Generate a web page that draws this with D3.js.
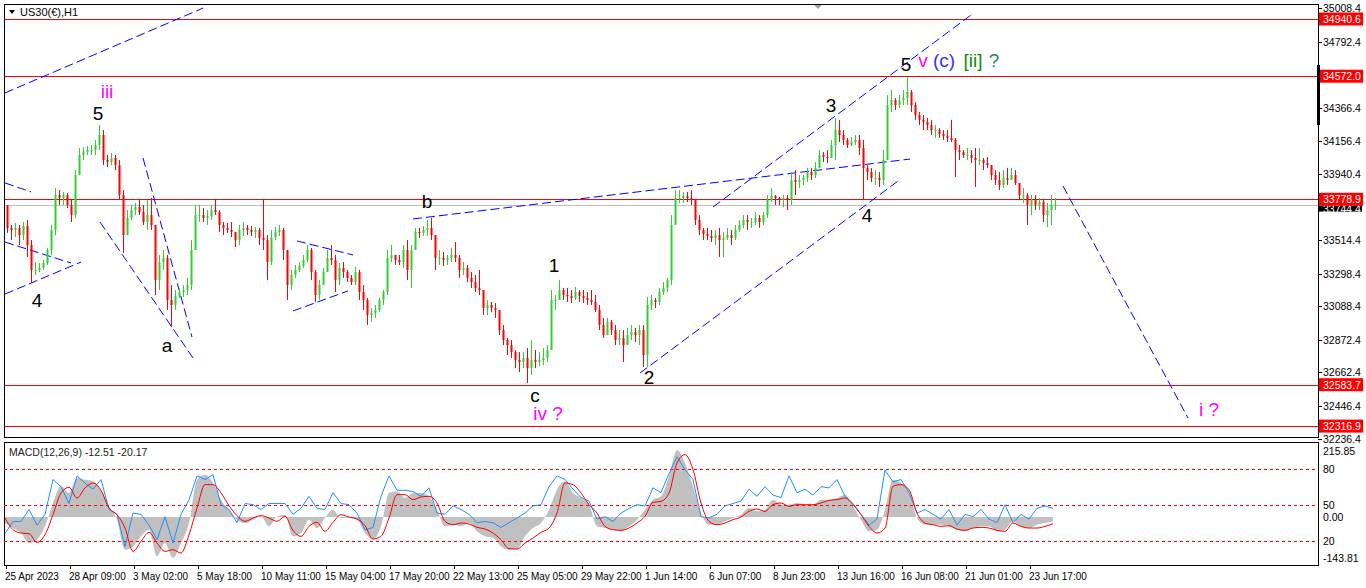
<!DOCTYPE html>
<html>
<head>
<meta charset="utf-8">
<script src="https://cdn.jsdelivr.net/npm/d3@7"></script>
<style>
body { margin: 0; background: #fff; }
svg text { font-family: "Liberation Sans", Arial, sans-serif; }
</style>
</head>
<body>
<svg id="chart" width="1366" height="588"></svg>
<script>
// H1 bars, grouped by 4 hours (one column per 4 bars)
const firstOpen = 33740;
const barHigh = [
  33742,33613,33626,33613,33632,33645,33516,33374,33368,33387,
  33465,33613,33852,33838,33825,33819,33774,33967,34109,34115,
  34122,34128,34161,34257,34225,34064,34077,34064,34032,33838,
  33709,33742,33755,33774,33742,33774,33787,33613,33420,33452,
  33420,33226,33194,33207,33226,33272,33516,33742,33742,33723,
  33709,33742,33774,33709,33632,33626,33632,33568,33613,33632,
  33613,33607,33600,33594,33774,33548,33581,33600,33613,33594,
  33452,33323,33355,33374,33420,33484,33465,33323,33258,33336,
  33452,33484,33420,33368,33374,33323,33291,33342,33323,33226,
  33143,33078,33097,33143,33194,33452,33484,33420,33420,33484,
  33516,33484,33594,33594,33607,33645,33658,33548,33452,33439,
  33420,33465,33503,33420,33374,33355,33310,33291,33323,33194,
  33130,33117,33110,33065,32968,32885,32872,32807,32794,32794,
  32820,32872,32807,32794,32820,32839,33194,33162,33258,33207,
  33207,33194,33213,33194,33194,33181,33194,33162,33097,33014,
  33014,33001,32968,32936,32936,32949,32968,32949,32968,32968,
  33149,33162,33143,33207,33245,33272,33677,33838,33838,33825,
  33825,33838,33774,33677,33594,33594,33581,33581,33594,33568,
  33594,33581,33613,33645,33677,33677,33658,33696,33677,33696,
  33806,33852,33806,33793,33806,33806,33954,33967,33935,33935,
  33980,33980,34019,34096,34083,34096,34161,34303,34290,34225,
  34174,34180,34193,34193,34161,33999,33980,33967,33954,34096,
  34451,34483,34431,34451,34483,34567,34483,34405,34341,34322,
  34303,34290,34257,34238,34225,34225,34290,34174,34128,34096,
  34109,34096,34109,34109,34045,34051,33999,33967,33954,33967,
  33980,33980,33967,33884,33852,33819,33806,33806,33787,33774,
  33755,33806,33787
];
const barLow = [
  33562,33516,33535,33484,33516,33407,33239,33291,33310,33323,
  33355,33420,33548,33742,33742,33723,33632,33658,33967,34032,
  34064,34064,34064,34096,33999,33986,33999,33967,33774,33433,
  33548,33645,33677,33677,33613,33581,33581,33162,33194,33323,
  33065,32955,33065,33143,33149,33162,33194,33452,33632,33632,
  33613,33645,33677,33568,33548,33562,33535,33471,33484,33542,
  33548,33542,33529,33484,33452,33258,33355,33516,33542,33387,
  33130,33194,33272,33310,33336,33374,33258,33117,33130,33226,
  33310,33355,33181,33226,33272,33245,33226,33226,33130,33065,
  32968,32988,33014,33052,33097,33162,33374,33355,33355,33336,
  33258,33207,33452,33529,33542,33542,33516,33323,33355,33349,
  33355,33374,33374,33272,33291,33245,33207,33181,33162,33033,
  33033,33052,33014,32904,32839,32775,32756,32691,32665,32691,
  32594,32646,32691,32704,32711,32730,32807,33065,33130,33130,
  33117,33110,33130,33117,33110,33097,33097,33052,32936,32885,
  32923,32904,32839,32839,32730,32839,32872,32859,32839,32698,
  32698,33065,33078,33097,33162,33181,33226,33613,33755,33755,
  33761,33742,33613,33548,33516,33516,33503,33484,33407,33407,
  33516,33484,33516,33568,33594,33581,33594,33613,33594,33613,
  33658,33761,33742,33742,33729,33709,33742,33806,33852,33871,
  33890,33903,33916,33980,34019,34012,34045,34032,34148,34128,
  34109,34122,34128,34064,33774,33903,33890,33871,33858,33871,
  34032,34341,34354,34367,34386,34386,34341,34290,34257,34225,
  34225,34193,34174,34174,34161,34148,34148,33922,34032,34045,
  34032,34012,33858,33999,33967,33980,33903,33871,33838,33852,
  33871,33903,33871,33774,33755,33613,33677,33709,33709,33632,
  33600,33613,33709
];
const barClose = [
  33594,33581,33594,33548,33607,33484,33323,33323,33336,33368,
  33452,33581,33806,33787,33806,33742,33677,33935,34064,34083,
  34096,34096,34128,34193,34032,34019,34045,33999,33806,33548,
  33658,33709,33729,33696,33632,33677,33613,33258,33374,33401,
  33130,33097,33156,33181,33194,33226,33452,33677,33677,33658,
  33671,33709,33696,33613,33594,33581,33568,33516,33581,33594,
  33581,33568,33581,33529,33516,33374,33535,33568,33581,33452,
  33226,33291,33323,33349,33387,33452,33310,33162,33226,33310,
  33401,33387,33258,33336,33310,33272,33245,33310,33181,33130,
  33033,33046,33065,33130,33181,33401,33420,33387,33374,33452,
  33323,33452,33568,33562,33581,33594,33548,33401,33401,33387,
  33401,33420,33401,33323,33336,33272,33245,33207,33194,33078,
  33097,33078,33065,32936,32872,32839,32794,32743,32730,32756,
  32691,32743,32730,32743,32756,32807,33130,33130,33194,33162,
  33156,33143,33181,33156,33143,33130,33117,33065,32968,32904,
  32988,32936,32872,32885,32839,32904,32923,32904,32936,32775,
  33097,33130,33117,33181,33207,33258,33613,33787,33787,33800,
  33787,33774,33645,33581,33555,33542,33529,33548,33516,33529,
  33548,33529,33581,33613,33645,33632,33632,33658,33632,33677,
  33774,33800,33787,33774,33787,33774,33903,33890,33903,33916,
  33954,33935,33980,34064,34051,34045,34128,34225,34193,34161,
  34128,34148,34161,34109,33980,33954,33916,33916,33903,34032,
  34386,34418,34386,34418,34431,34470,34386,34322,34290,34277,
  34257,34225,34225,34199,34187,34174,34161,34096,34083,34064,
  34064,34045,34032,34032,34012,33999,33935,33903,33871,33916,
  33903,33935,33884,33806,33806,33742,33774,33742,33761,33677,
  33709,33742,33744
];
const barsPerColumn = 4;

const timeLabels = ["25 Apr 2023","28 Apr 09:00","3 May 02:00","5 May 18:00","10 May 11:00",
  "15 May 04:00","17 May 20:00","22 May 13:00","25 May 05:00","29 May 22:00","1 Jun 14:00",
  "6 Jun 07:00","8 Jun 23:00","13 Jun 16:00","16 Jun 08:00","21 Jun 01:00","23 Jun 17:00"];
const barsPerLabel = 64;

const priceTicks = [35008.4,34792.4,34366.4,34156.4,33940.4,33514.4,33298.4,33088.4,32872.4,32662.4,32446.4,32236.4];
const levelPrices = [34940.6,34572.0,33778.9,32583.7,32316.9];
const bidPrice = 33744.4;

// MACD window, one value every 8 bars
const macdStep = 8;
const macdMain = [
  -18,-33,-48,-78,-68,-28,42,92,72,117,112,107,82,32,-8,-98,-88,-58,-38,-118,-78,-123,-78,-18,112,
  127,102,52,22,-8,-18,-8,2,-28,2,7,-58,-48,-8,-33,-3,22,-3,-3,-8,-48,-68,-28,72,77,57,72,72,62,22,
  -28,-23,-28,-18,-43,-58,-63,-88,-98,-96,
  -58,-33,-18,22,82,107,72,57,37,-28,-33,-38,-43,-28,-8,22,52,62,122,200,162,92,12,-23,-23,
  -13,-3,7,27,17,22,52,37,37,42,37,37,52,52,57,67,32,-8,-43,-38,22,112,102,77,-3,-23,-23,-23,-28,-38,
  -43,-33,-28,-28,-43,-38,-13,-28,-33,-23,-18,-12.51
];
const macdSignal = [
  -3,-38,-48,-50,-76,-53,7,72,89,57,87,102,80,27,7,-33,-103,-73,-46,-78,-103,-98,-108,-53,27,
  97,97,72,34,4,-13,-3,4,-3,-13,2,-40,-58,-28,-16,-43,-16,7,0,-6,-26,-66,-58,-3,67,67,52,60,62,42,
  -13,-23,-18,-21,-31,-36,-48,-68,-95,-96,
  -78,-63,-46,-33,12,102,97,72,37,12,-28,-38,-40,-33,-18,2,44,47,72,162,187,142,42,-13,-23,
  -18,-8,0,17,24,17,37,42,32,37,37,37,42,50,52,57,37,7,-28,-48,-33,92,97,82,12,-18,-23,-28,-26,-36,
  -40,-33,-31,-33,-40,-43,-18,-28,-33,-33,-28,-20.17
];
const oscLine = [
  26,36,36,46,33,42,71,65,51,74,68,63,71,46,42,15,43,42,33,21,40,18,42,54,74,
  71,75,50,46,35,51,50,46,51,51,51,42,47,57,47,46,60,51,50,43,29,31,57,74,62,62,61,57,64,43,
  42,49,46,42,35,36,35,31,35,39,
  43,49,50,65,74,71,63,56,53,38,40,36,43,47,50,49,64,60,76,90,79,71,40,39,42,
  49,51,53,63,57,65,58,56,74,60,63,58,65,64,71,57,51,42,33,38,79,69,71,60,43,46,42,38,46,33,
  42,40,46,38,35,50,35,42,38,47,49,47
];
const oscLevels = [80, 50, 20];
const macdRange = [-143.81, 215.85];

// wave count text: bar index, price
const waveLabels = [
  { bar: 32, price: 33084, text: "4", color: "#000" },
  { bar: 93, price: 34290, text: "5", color: "#000" },
  { bar: 102, price: 34430, text: "iii", color: "#ff00ff" },
  { bar: 162, price: 32794, text: "a", color: "#000" },
  { bar: 422, price: 33722, text: "b", color: "#000" },
  { bar: 530, price: 32472, text: "c", color: "#000" },
  { bar: 543, price: 32356, text: "iv ?", color: "#ff00ff" },
  { bar: 549, price: 33310, text: "1", color: "#000" },
  { bar: 644, price: 32588, text: "2", color: "#000" },
  { bar: 826, price: 34341, text: "3", color: "#000" },
  { bar: 862, price: 33632, text: "4", color: "#000" },
  { bar: 901, price: 34605, text: "5", color: "#000" },
  { bar: 918, price: 34631, text: "v", color: "#ff00ff" },
  { bar: 939, price: 34631, text: "(c)", color: "#3030ff" },
  { bar: 968, price: 34631, text: "[ii]", color: "#108a10" },
  { bar: 989, price: 34631, text: "?", color: "#208a50" },
  { bar: 1204, price: 32382, text: "i ?", color: "#ff00ff" }
];

// dashed trend lines: [bar, price] -> [bar, price]
const trendLines = [
  [0, 34464, 198, 35011],
  [0, 33884, 26, 33826],
  [0, 33503, 66, 33368],
  [0, 33168, 76, 33374],
  [138, 34045, 187, 32891],
  [95, 33632, 188, 32756],
  [292, 33510, 348, 33420],
  [288, 33059, 343, 33188],
  [408, 33652, 905, 34038],
  [708, 33729, 966, 34966],
  [635, 32659, 893, 33896],
  [1058, 33864, 1183, 32369]
];

const svg = d3.select("#chart");

const left = 4, right = 1318;
const mainTop = 4, mainBottom = 437;
const subTop = 442, subBottom = 565;

const x = d3.scaleLinear().domain([0, 1313]).range([5, 1318]);
const y = d3.scaleLinear().domain([32446.4, 34792.4]).range([406, 42]);
const yMacd = d3.scaleLinear().domain(macdRange).range([565, 445]);
const yOsc = d3.scaleLinear().domain([0, 100]).range([564.7, 444.7]);

svg.append("rect").attr("width", 1366).attr("height", 588).attr("fill", "#fff");

svg.append("clipPath").attr("id", "mainClip")
  .append("rect").attr("x", left).attr("y", mainTop).attr("width", right - left).attr("height", mainBottom - mainTop);
svg.append("clipPath").attr("id", "subClip")
  .append("rect").attr("x", left).attr("y", subTop).attr("width", right - left).attr("height", subBottom - subTop);

// main panel
const main = svg.append("g").attr("clip-path", "url(#mainClip)");

main.selectAll("line.level")
  .data(levelPrices)
  .join("line")
  .attr("x1", left).attr("x2", right)
  .attr("y1", d => Math.round(y(d)) + 0.5).attr("y2", d => Math.round(y(d)) + 0.5)
  .attr("stroke", "#ff0000");

main.append("line")
  .attr("x1", left).attr("x2", right)
  .attr("y1", Math.round(y(bidPrice)) + 0.5).attr("y2", Math.round(y(bidPrice)) + 0.5)
  .attr("stroke", "#c0c0c0");

main.selectAll("line.trend")
  .data(trendLines)
  .join("line")
  .attr("x1", d => x(d[0])).attr("y1", d => y(d[1]))
  .attr("x2", d => x(d[2])).attr("y2", d => y(d[3]))
  .attr("stroke", "#0000ff")
  .attr("stroke-width", 1)
  .attr("stroke-dasharray", "9,4");

const cols = barClose.map((c, i) => {
  const o = i ? barClose[i - 1] : firstOpen;
  return { i, o, c, h: Math.max(barHigh[i], o, c), l: Math.min(barLow[i], o, c) };
});
const colColor = d => d.c >= d.o ? "#32cd32" : "#ff0000";

main.selectAll("line.wick")
  .data(cols)
  .join("line")
  .attr("x1", d => Math.round(x(d.i * barsPerColumn + 2)) + 0.5)
  .attr("x2", d => Math.round(x(d.i * barsPerColumn + 2)) + 0.5)
  .attr("y1", d => y(d.h)).attr("y2", d => y(d.l))
  .attr("stroke", colColor);

main.selectAll("rect.body")
  .data(cols)
  .join("rect")
  .attr("x", d => Math.round(x(d.i * barsPerColumn + 1)) + 0.5)
  .attr("width", 2)
  .attr("y", d => y(Math.max(d.o, d.c)))
  .attr("height", d => Math.max(1, Math.abs(y(d.o) - y(d.c))))
  .attr("fill", colColor);

main.selectAll("text.wave")
  .data(waveLabels)
  .join("text")
  .attr("x", d => x(d.bar)).attr("y", d => y(d.price))
  .attr("text-anchor", "middle")
  .attr("font-size", 19)
  .attr("fill", d => d.color)
  .text(d => d.text);

// chart shift marker
svg.append("path")
  .attr("d", `M${x(808)},4L${x(818)},4L${x(813)},9Z`)
  .attr("fill", "#a0a0a0");

// header
svg.append("path").attr("d", "M9,10L15,10L12,14Z").attr("fill", "#000");
svg.append("text").attr("x", 20).attr("y", 16).attr("font-size", 11).text("US30(€),H1");

// frames
svg.append("rect").attr("x", left + 0.5).attr("y", mainTop + 0.5)
  .attr("width", right - left).attr("height", mainBottom - mainTop)
  .attr("fill", "none").attr("stroke", "#000");
svg.append("rect").attr("x", left + 0.5).attr("y", subTop + 0.5)
  .attr("width", right - left).attr("height", subBottom - subTop)
  .attr("fill", "none").attr("stroke", "#000");

// price axis
const axisG = svg.append("g");
axisG.selectAll("line")
  .data(priceTicks)
  .join("line")
  .attr("x1", right).attr("x2", right + 4)
  .attr("y1", d => Math.round(y(d)) + 0.5).attr("y2", d => Math.round(y(d)) + 0.5)
  .attr("stroke", "#000");
axisG.selectAll("text")
  .data(priceTicks)
  .join("text")
  .attr("x", right + 5).attr("y", d => y(d) + 4)
  .attr("font-size", 10.5)
  .text(d => d.toFixed(1));

// bid label sits under the level labels; only its lower edge shows
svg.append("clipPath").attr("id", "bidClip")
  .append("rect").attr("x", right).attr("y", y(bidPrice) + 1).attr("width", 48).attr("height", 8);
const bidG = axisG.append("g").attr("clip-path", "url(#bidClip)");
bidG.append("rect")
  .attr("x", right + 1).attr("y", y(bidPrice) - 6).attr("width", 43).attr("height", 13)
  .attr("fill", "#000");
bidG.append("text")
  .attr("x", right + 5).attr("y", y(bidPrice) + 8)
  .attr("font-size", 10.5).attr("fill", "#fff")
  .text(bidPrice.toFixed(1));

const levelG = axisG.selectAll("g.lvl").data(levelPrices).join("g");
levelG.append("rect")
  .attr("x", right + 1).attr("y", d => y(d) - 6.5).attr("width", 44).attr("height", 13)
  .attr("fill", "#ff0000");
levelG.append("text")
  .attr("x", right + 5).attr("y", d => y(d) + 4)
  .attr("font-size", 10.5).attr("fill", "#fff")
  .text(d => d.toFixed(1));

// black marker on price scale
axisG.append("rect")
  .attr("x", right - 1).attr("y", y(34644)).attr("width", 3).attr("height", y(34257) - y(34644))
  .attr("fill", "#000");

// MACD window
const sub = svg.append("g").attr("clip-path", "url(#subClip)");

sub.append("path")
  .datum(macdMain)
  .attr("d", d3.area()
    .x((d, j) => x(j * macdStep))
    .y0(yMacd(0))
    .y1(d => yMacd(d))
    .curve(d3.curveMonotoneX))
  .attr("fill", "#c0c0c0");

sub.selectAll("line.osclvl")
  .data(oscLevels)
  .join("line")
  .attr("x1", left).attr("x2", right)
  .attr("y1", d => Math.round(yOsc(d)) + 0.5).attr("y2", d => Math.round(yOsc(d)) + 0.5)
  .attr("stroke", "#ff0000")
  .attr("stroke-dasharray", "3,3");

sub.append("path")
  .datum(oscLine)
  .attr("d", d3.line().x((d, j) => x(j * macdStep)).y(d => yOsc(d)))
  .attr("fill", "none")
  .attr("stroke", "#1e90ff");

sub.append("path")
  .datum(macdSignal)
  .attr("d", d3.line().x((d, j) => x(j * macdStep)).y(d => yMacd(d)).curve(d3.curveMonotoneX))
  .attr("fill", "none")
  .attr("stroke", "#ff0000");

svg.append("text")
  .attr("x", 9).attr("y", 456)
  .attr("font-size", 10.5).attr("fill", "#222")
  .text(`MACD(12,26,9) ${macdMain[macdMain.length - 1]} ${macdSignal[macdSignal.length - 1]}`);

const subLabels = [
  { v: yMacd(macdRange[1]) + 10, t: macdRange[1].toFixed(2) },
  { v: yOsc(80) + 4, t: "80" },
  { v: yOsc(50) + 4, t: "50" },
  { v: yMacd(0) + 4, t: "0.00" },
  { v: yOsc(20) + 4, t: "20" },
  { v: yMacd(macdRange[0]) - 3, t: macdRange[0].toFixed(2) }
];
svg.selectAll("text.sublbl")
  .data(subLabels)
  .join("text")
  .attr("x", right + 5).attr("y", d => d.v)
  .attr("font-size", 10.5)
  .text(d => d.t);

// time axis
const timeG = svg.append("g");
timeG.selectAll("line")
  .data(timeLabels)
  .join("line")
  .attr("x1", (d, k) => Math.round(x(k * barsPerLabel)) + 1.5)
  .attr("x2", (d, k) => Math.round(x(k * barsPerLabel)) + 1.5)
  .attr("y1", subBottom).attr("y2", subBottom + 4)
  .attr("stroke", "#000");
timeG.selectAll("text")
  .data(timeLabels)
  .join("text")
  .attr("x", (d, k) => x(k * barsPerLabel))
  .attr("y", 580)
  .attr("font-size", 10)
  .text(d => d);
</script>
</body>
</html>
